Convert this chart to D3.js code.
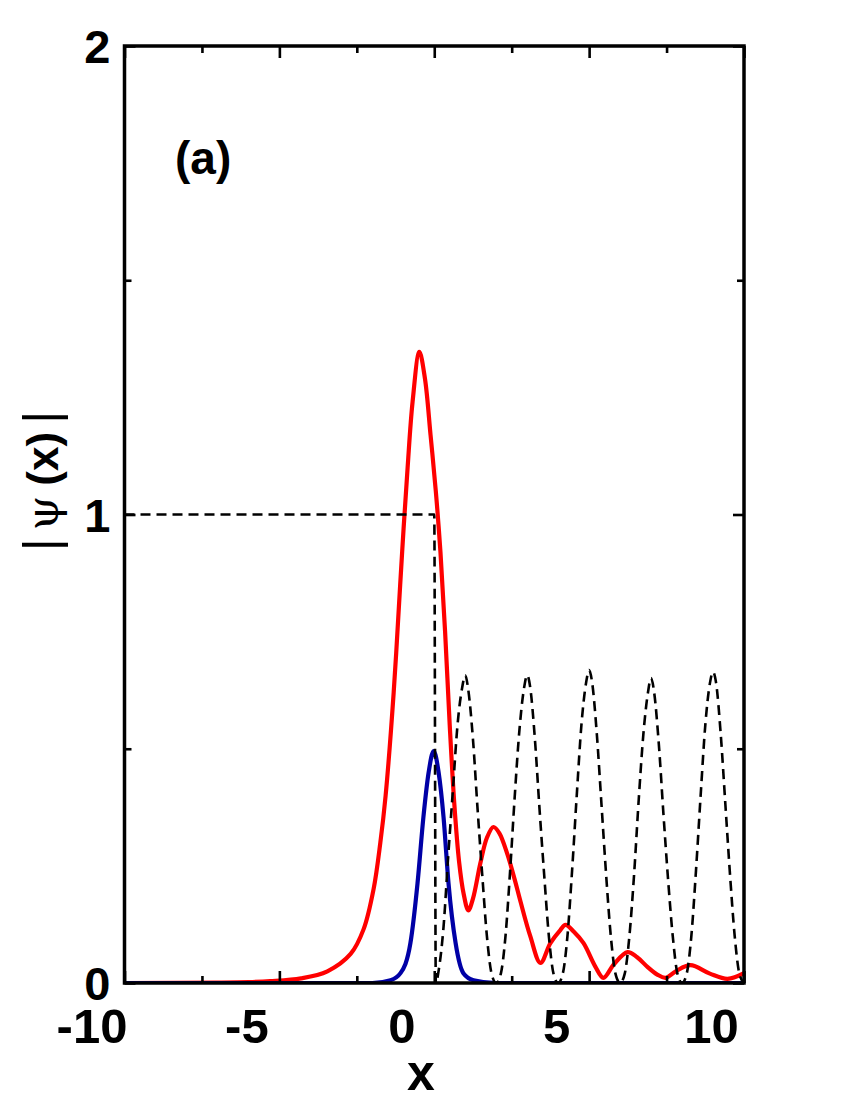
<!DOCTYPE html>
<html><head><meta charset="utf-8">
<script src="https://cdn.jsdelivr.net/npm/d3@7"></script>
<style>body{margin:0;background:#fff}svg{display:block}</style>
</head><body>
<script>
// ---- data ----
const xMajorTicks = [-10, -5, 0, 5, 10];
const xMinorTicks = [-7.5, -2.5, 2.5, 7.5];
const yMajorTicks = [0, 1, 2];
const yMinorTicks = [0.5, 1.5];

const redX = [-10,-7,-6,-5.3,-4.3,-3.45,-2.7,-2.28,-1.96,-1.74,-1.57,-1.31,-1.1,-0.99,-0.86,-0.7,-0.48,-0.3,-0.12,0.05,0.2,0.35,0.5,0.65,0.8,0.95,1.1,1.25,1.49,1.7,1.91,2.1,2.36,2.6,2.78,3.1,3.43,3.75,4.07,4.24,4.5,4.82,5.2,5.46,5.8,6.24,6.55,6.89,7.2,7.47,7.8,8.27,8.9,9.47,10];
const redY = [0,0.001,0.002,0.004,0.010,0.025,0.062,0.115,0.20,0.30,0.40,0.62,0.85,0.97,1.10,1.24,1.347,1.29,1.17,1.05,0.92,0.75,0.55,0.38,0.26,0.19,0.155,0.18,0.256,0.31,0.333,0.32,0.275,0.22,0.175,0.10,0.043,0.085,0.113,0.124,0.11,0.085,0.035,0.011,0.04,0.066,0.055,0.034,0.018,0.011,0.025,0.038,0.02,0.009,0.021];

const blueX = [-10,-2,-1.41,-1.09,-0.77,-0.54,-0.35,-0.18,-0.02,0.14,0.30,0.46,0.69,0.94,1.27,2,10];
const blueY = [0,0,0.006,0.021,0.085,0.213,0.354,0.45,0.495,0.45,0.354,0.213,0.085,0.021,0.006,0,0];

const dashX = [-10,0,0.05,0.15,0.3,0.45,0.6,0.75,0.9,1.0,1.1,1.25,1.4,1.55,1.7,1.85,2.0,
  2.15,2.3,2.45,2.6,2.75,2.9,3.0,3.1,3.25,3.4,3.55,3.7,3.85,4.0,
  4.15,4.3,4.45,4.6,4.75,4.9,5.0,5.1,5.25,5.4,5.55,5.7,5.85,6.0,
  6.15,6.3,6.45,6.6,6.75,6.9,7.0,7.1,7.25,7.4,7.55,7.7,7.85,8.0,
  8.15,8.3,8.45,8.6,8.75,8.9,9.0,9.1,9.25,9.4,9.55,9.7,9.85,10.0];
const dashY = [1,1,0,0.03,0.12,0.27,0.41,0.55,0.63,0.657,0.625,0.52,0.37,0.23,0.10,0.02,0,
  0.02,0.10,0.24,0.40,0.54,0.63,0.657,0.63,0.52,0.37,0.23,0.10,0.02,0,
  0.02,0.10,0.24,0.40,0.55,0.64,0.668,0.64,0.53,0.38,0.23,0.10,0.02,0,
  0.02,0.10,0.23,0.39,0.53,0.62,0.651,0.62,0.51,0.36,0.22,0.10,0.02,0,
  0.02,0.10,0.24,0.40,0.55,0.64,0.664,0.64,0.53,0.38,0.23,0.10,0.02,0];

// ---- layout ----
const W = 850, H = 1100;
const L = 124.5, R = 744, T = 46, B = 983;
const svg = d3.select("body").append("svg").attr("width", W).attr("height", H);
const x = d3.scaleLinear().domain([-10, 10]).range([L, R]);
const y = d3.scaleLinear().domain([0, 2]).range([B, T]);
const FONT = "'Liberation Sans', Arial, Helvetica, sans-serif";

svg.append("defs").append("clipPath").attr("id", "clip")
  .append("rect").attr("x", L).attr("y", T).attr("width", R - L).attr("height", B - T);

const plot = svg.append("g").attr("clip-path", "url(#clip)");
const smooth = d3.line().x(d => x(d[0])).y(d => y(Math.max(0, d[1]))).curve(d3.curveCatmullRom.alpha(0.5));
const mono = d3.line().x(d => x(d[0])).y(d => y(d[1])).curve(d3.curveMonotoneX);

plot.append("path").datum(redX.map((v, i) => [v, redY[i]]))
  .attr("d", smooth).attr("fill", "none").attr("stroke", "#ff0000").attr("stroke-width", 4.2).attr("stroke-linejoin", "round");
plot.append("path").datum(blueX.map((v, i) => [v, blueY[i]]))
  .attr("d", mono).attr("fill", "none").attr("stroke", "#0000a6").attr("stroke-width", 4.2).attr("stroke-linejoin", "round");
plot.append("path").datum(dashX.map((v, i) => [v, dashY[i]]))
  .attr("d", mono).attr("fill", "none").attr("stroke", "#000").attr("stroke-width", 2.6).attr("stroke-dasharray", "10,6");

// ---- axes (ticks inward on all sides) ----
function tickAxis(axisFn, scale, vals, size, tr) {
  const g = svg.append("g").attr("transform", tr)
    .call(axisFn(scale).tickValues(vals).tickSizeInner(-size).tickSizeOuter(0).tickFormat(""));
  g.select(".domain").remove();
  g.selectAll(".tick line").attr("stroke", "#000").attr("stroke-width", 2.6);
  return g;
}
tickAxis(d3.axisBottom, x, xMajorTicks, 12, `translate(0,${B})`);
tickAxis(d3.axisBottom, x, xMinorTicks, 7, `translate(0,${B})`);
tickAxis(d3.axisTop, x, xMajorTicks, 12, `translate(0,${T})`);
tickAxis(d3.axisTop, x, xMinorTicks, 7, `translate(0,${T})`);
tickAxis(d3.axisLeft, y, yMajorTicks, 11, `translate(${L},0)`);
tickAxis(d3.axisLeft, y, yMinorTicks, 7, `translate(${L},0)`);
tickAxis(d3.axisRight, y, yMajorTicks, 11, `translate(${R},0)`);
tickAxis(d3.axisRight, y, yMinorTicks, 7, `translate(${R},0)`);

svg.append("rect").attr("x", L).attr("y", T).attr("width", R - L).attr("height", B - T)
  .attr("fill", "none").attr("stroke", "#000").attr("stroke-width", 3.5);

// tick labels
const xl = svg.append("g").attr("transform", `translate(0,${B})`)
  .call(d3.axisBottom(x).tickValues(xMajorTicks).tickSize(0).tickFormat(d => String(d)));
xl.select(".domain").remove();
xl.selectAll("text").attr("font-family", FONT).attr("font-weight", "bold").attr("font-size", 49)
  .attr("fill", "#000").attr("dx", -33).attr("y", 60).attr("dy", 0);

const yl = svg.append("g").attr("transform", `translate(${L},0)`)
  .call(d3.axisLeft(y).tickValues(yMajorTicks).tickSize(0).tickFormat(d => String(d)));
yl.select(".domain").remove();
yl.selectAll("text").attr("font-family", FONT).attr("font-weight", "bold").attr("font-size", 47)
  .attr("fill", "#000").attr("x", -14).attr("dy", "0.36em");

// axis titles
svg.append("text").attr("x", 421).attr("y", 1090).attr("text-anchor", "middle")
  .attr("font-family", FONT).attr("font-weight", "bold").attr("font-size", 50).text("x");

const yt = svg.append("text").attr("transform", "translate(58,481) rotate(-90)")
  .attr("text-anchor", "middle").attr("font-family", FONT).attr("font-size", 44);
yt.append("tspan").attr("font-weight", "normal").attr("font-size", 50).text("|");
yt.append("tspan").attr("font-family", "'DejaVu Serif', serif").attr("dx", 8).text("ψ");
yt.append("tspan").attr("font-weight", "bold").attr("dx", 10).text("(x)");
yt.append("tspan").attr("font-weight", "normal").attr("font-size", 50).attr("dx", 8).text("|");

svg.append("text").attr("x", 175).attr("y", 174).attr("font-family", FONT)
  .attr("font-weight", "bold").attr("font-size", 46).text("(a)");
</script>
</body></html>
